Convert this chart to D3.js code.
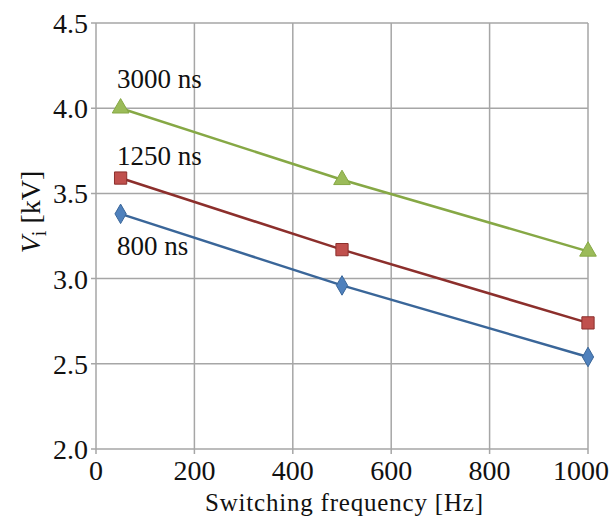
<!DOCTYPE html>
<head>
  <meta charset="utf-8">
  <script src="https://d3js.org/d3.v7.min.js"></script>
  <style type="text/css">
    body { margin:0; background:#fff; }
    .grid line { stroke:#a6a6a6; stroke-width:1.5; }
    .line { fill:none; stroke-width:2.5; }
  </style>
</head>
<body>
<script>
// data
var freqs = [50, 500, 1000];
var v800 = [3.38, 2.96, 2.54];
var v1250 = [3.59, 3.17, 2.74];
var v3000 = [4.00, 3.58, 3.16];
var xTicks = [0, 200, 400, 600, 800, 1000];
var yTicks = [2.0, 2.5, 3.0, 3.5, 4.0, 4.5];

var series = [
  {name: "800 ns", values: v800, color: "#4f81bd", stroke: "#3a6699", shape: d3.symbolDiamond, size: 110, lx: 117, ly: 3.14},
  {name: "1250 ns", values: v1250, color: "#c0504d", stroke: "#8c2f2c", shape: d3.symbolSquare, size: 150, lx: 117, ly: 3.665},
  {name: "3000 ns", values: v3000, color: "#9bbb59", stroke: "#86a845", shape: d3.symbolTriangle, size: 120, lx: 117, ly: 4.12}
];

var serif = "'Liberation Serif', 'Times New Roman', serif";
var width = 613, height = 519;

var x = d3.scaleLinear().domain([0, 1000]).range([96, 588]);
var y = d3.scaleLinear().domain([2.0, 4.5]).range([449, 23]);

var svg = d3.select("body").append("svg")
  .attr("width", width).attr("height", height);

// grid
var grid = svg.append("g").attr("class", "grid");
grid.selectAll(".v").data(xTicks).enter().append("line")
  .attr("x1", function(d) { return x(d); }).attr("x2", function(d) { return x(d); })
  .attr("y1", y(4.5)).attr("y2", y(2.0) + 5);
grid.selectAll(".h").data(yTicks).enter().append("line")
  .attr("x1", x(0) - 5).attr("x2", x(1000))
  .attr("y1", function(d) { return y(d); }).attr("y2", function(d) { return y(d); });

// tick labels
svg.selectAll(".ytick").data(yTicks).enter().append("text")
  .attr("x", 88).attr("y", function(d) { return y(d) + 10; })
  .attr("text-anchor", "end")
  .style("font-family", serif).style("font-size", "28px").style("fill", "#111")
  .text(function(d) { return d.toFixed(1); });

svg.selectAll(".xtick").data(xTicks).enter().append("text")
  .attr("x", function(d) { return d == 1000 ? 609 : x(d); }).attr("y", 480)
  .attr("text-anchor", function(d) { return d == 1000 ? "end" : "middle"; })
  .style("font-family", serif).style("font-size", "28px").style("fill", "#111")
  .text(function(d) { return d; });

// axis titles
svg.append("text")
  .attr("x", 205).attr("y", 511)
  .attr("textLength", 278)
  .attr("lengthAdjust", "spacing")
  .style("font-family", serif).style("font-size", "25px").style("fill", "#111")
  .text("Switching frequency [Hz]");

var yt = svg.append("text")
  .attr("transform", "translate(40,212) rotate(-90)")
  .attr("text-anchor", "middle")
  .style("font-family", serif).style("font-size", "28px").style("fill", "#111");
yt.append("tspan").style("font-style", "italic").text("V");
yt.append("tspan").attr("dy", 6).style("font-size", "20px").text("i");
yt.append("tspan").attr("dy", -6).text(" [kV]");

// lines and markers
var line = d3.line()
  .x(function(d, i) { return x(freqs[i]); })
  .y(function(d) { return y(d); });

series.forEach(function(s) {
  svg.append("path")
    .datum(s.values)
    .attr("class", "line")
    .attr("stroke", s.stroke)
    .attr("d", line);

  svg.selectAll(null).data(s.values).enter().append("path")
    .attr("d", d3.symbol().type(s.shape).size(s.size))
    .attr("transform", function(d, i) { return "translate(" + x(freqs[i]) + "," + y(d) + ")"; })
    .attr("fill", s.color)
    .attr("stroke", s.stroke)
    .attr("stroke-width", 1);

  svg.append("text")
    .attr("x", s.lx).attr("y", y(s.ly))
    .style("font-family", serif).style("font-size", "27px").style("fill", "#111")
    .text(s.name);
});
</script>
</body>
